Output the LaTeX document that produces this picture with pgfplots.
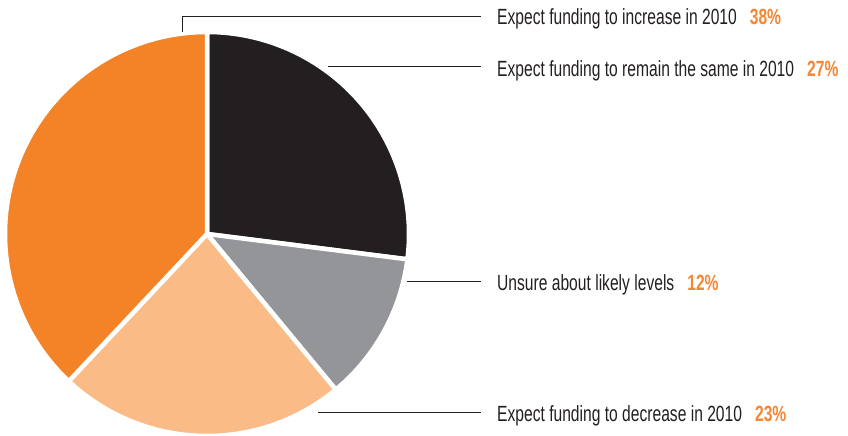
\documentclass[border=0pt]{standalone}
\usepackage{pgfplots}
\usepackage{pgfplotstable}
\pgfplotsset{compat=1.18}
\usepackage{fontspec}
\setmainfont[FakeStretch=0.71]{Liberation Sans}

\definecolor{piedark}{HTML}{231F20}
\definecolor{piegray}{HTML}{939598}
\definecolor{pielight}{HTML}{FBBB86}
\definecolor{pieorange}{HTML}{F48226}
\definecolor{pcttext}{HTML}{F58634}
\definecolor{labeltext}{HTML}{231F20}

% shares in percent, clockwise from 12 o'clock
\pgfplotstableread{
share
27
12
23
38
}\piedata

\begin{document}
\begin{tikzpicture}
\pgfplotstablegetelem{0}{share}\of\piedata \let\sA\pgfplotsretval
\pgfplotstablegetelem{1}{share}\of\piedata \let\sB\pgfplotsretval
\pgfplotstablegetelem{2}{share}\of\piedata \let\sC\pgfplotsretval
\pgfplotstablegetelem{3}{share}\of\piedata \let\sD\pgfplotsretval
\pgfmathsetmacro\aA{90-3.6*\sA}
\pgfmathsetmacro\aB{\aA-3.6*\sB}
\pgfmathsetmacro\aC{\aB-3.6*\sC}
\pgfmathsetmacro\aD{\aC-3.6*\sD}
\begin{axis}[
  width=848bp, height=436bp, scale only axis,
  xmin=0, xmax=848, ymin=0, ymax=436,
  hide axis, clip=false,
]
\coordinate (bl) at (axis cs:0,0);
\coordinate (tr) at (axis cs:848,436);
% slices
\def\cx{207}\def\cy{202}\def\r{202bp}
\fill[piedark,draw=white,line width=4.5bp] (axis cs:\cx,\cy) -- ++(90:\r) arc[start angle=90,end angle=\aA,radius=\r] -- cycle;
\fill[piegray,draw=white,line width=4.5bp] (axis cs:\cx,\cy) -- ++(\aA:\r) arc[start angle=\aA,end angle=\aB,radius=\r] -- cycle;
\fill[pielight,draw=white,line width=4.5bp] (axis cs:\cx,\cy) -- ++(\aB:\r) arc[start angle=\aB,end angle=\aC,radius=\r] -- cycle;
\fill[pieorange,draw=white,line width=4.5bp] (axis cs:\cx,\cy) -- ++(\aC:\r) arc[start angle=\aC,end angle=\aD,radius=\r] -- cycle;
% leader lines
\draw[labeltext,line width=1bp] (axis cs:182,404) |- (axis cs:481,419);
\draw[labeltext,line width=1bp] (axis cs:328,369) -- (axis cs:481,369);
\draw[labeltext,line width=1bp] (axis cs:407,154) -- (axis cs:481,154);
\draw[labeltext,line width=1bp] (axis cs:318,23) -- (axis cs:481,23);
% labels
\tikzset{lbl/.style={anchor=base west,inner sep=0pt,font=\fontsize{22bp}{24bp}\selectfont,text=labeltext}}
\node[lbl] at (axis cs:497,411) {Expect funding to increase in 2010\hspace{13bp}\textcolor{pcttext}{\bfseries\sD\%}};
\node[lbl] at (axis cs:497,359) {Expect funding to remain the same in 2010\hspace{13bp}\textcolor{pcttext}{\bfseries\sA\%}};
\node[lbl] at (axis cs:497,145) {Unsure about likely levels\hspace{13bp}\textcolor{pcttext}{\bfseries\sB\%}};
\node[lbl] at (axis cs:497,15) {Expect funding to decrease in 2010\hspace{13bp}\textcolor{pcttext}{\bfseries\sC\%}};
\end{axis}
\pgfresetboundingbox
\path[use as bounding box] (bl) rectangle (tr);
\end{tikzpicture}
\end{document}
